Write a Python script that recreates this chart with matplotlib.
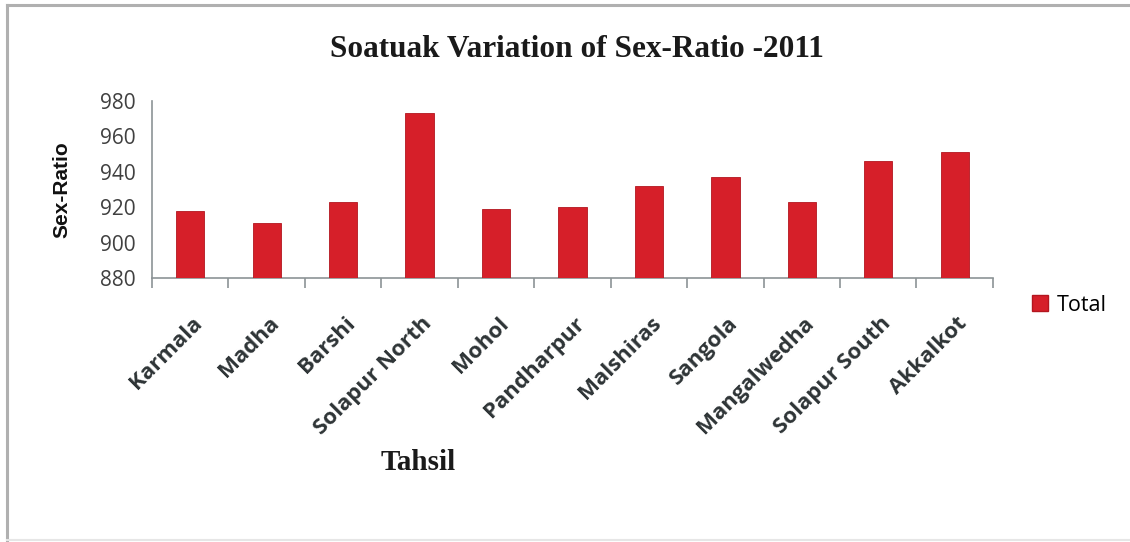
import matplotlib
matplotlib.use("Agg")
import matplotlib.pyplot as plt
from matplotlib.lines import Line2D
import numpy as np

TAHSILS = ["Karmala", "Madha", "Barshi", "Solapur North", "Mohol", "Pandharpur",
           "Malshiras", "Sangola", "Mangalwedha", "Solapur South", "Akkalkot"]
SEX_RATIO = [918, 911, 923, 973, 919, 920, 932, 937, 923, 946, 951]
Y_TICKS = [880, 900, 920, 940, 960, 980]

BAR_COLOR = "#D61F29"
AXIS_COLOR = "#8C9396"
TEXT_COLOR = "#404040"

fig = plt.figure(figsize=(11.3, 5.42), dpi=100)
ax = fig.add_axes([0.1345, 0.487, 0.7442, 0.3266])

x = np.arange(len(TAHSILS))
ax.bar(x, SEX_RATIO, width=0.37, bottom=0, color=BAR_COLOR,
       edgecolor="#B3161F", linewidth=0.6, label="Total", zorder=3)

ax.set_xlim(-0.5, len(TAHSILS) - 0.5)
ax.set_ylim(880, 980)
ax.set_yticks(Y_TICKS)
ax.set_yticklabels([str(v) for v in Y_TICKS], fontsize=15, color=TEXT_COLOR,
                   family="Open Sans")
ax.tick_params(axis="y", length=0, pad=12)

# category ticks sit on the boundaries between bars
ax.set_xticks(np.arange(len(TAHSILS) + 1) - 0.5, minor=False)
ax.set_xticklabels([])
ax.tick_params(axis="x", length=7, width=1.2, color=AXIS_COLOR, direction="out")
for xi, name in zip(x, TAHSILS):
    ax.text(xi + 0.12, 856, name, rotation=45, rotation_mode="anchor",
            ha="right", va="center", fontsize=16, fontweight="bold",
            color="#2E3436", family="Open Sans", transform=ax.transData,
            clip_on=False)

for side in ["top", "right"]:
    ax.spines[side].set_visible(False)
ax.spines["left"].set_color(AXIS_COLOR)
ax.spines["bottom"].set_color(AXIS_COLOR)
ax.spines["left"].set_linewidth(1.2)
ax.spines["bottom"].set_linewidth(1.2)

fig.text(0.511, 0.908, "Soatuak Variation of Sex-Ratio -2011", ha="center", va="center",
         fontsize=22.5, fontweight="bold", family="Liberation Serif", color="#1a1a1a")
fig.text(0.370, 0.147, "Tahsil", ha="center", va="center",
         fontsize=21, fontweight="bold", family="Liberation Serif", color="#1a1a1a")
fig.text(0.055, 0.65, "Sex-Ratio", ha="center", va="center", rotation=90,
         fontsize=15, fontweight="bold", family="Liberation Sans", color="#111111")

handle = Line2D([], [], marker="s", linestyle="none", markersize=12,
                markerfacecolor=BAR_COLOR, markeredgecolor="#B3161F")
fig.legend([handle], ["Total"], loc="center left", bbox_to_anchor=(0.899, 0.437),
           frameon=False, handletextpad=0.2, handlelength=1.2, borderpad=0,
           prop={"family": "Open Sans", "size": 15.5})

# frame around the figure (left, top, faint bottom)
fig.add_artist(Line2D([0.0065, 0.0065], [0.0, 0.99], color="#B0B0B0", lw=2.2,
                      transform=fig.transFigure))
fig.add_artist(Line2D([0.0065, 1.0], [0.99, 0.99], color="#B0B0B0", lw=2.2,
                      transform=fig.transFigure))
fig.add_artist(Line2D([0.0065, 1.0], [0.004, 0.004], color="#E6E6E6", lw=1.5,
                      transform=fig.transFigure))

fig.savefig("out.png", dpi=100)
plt.close(fig)
